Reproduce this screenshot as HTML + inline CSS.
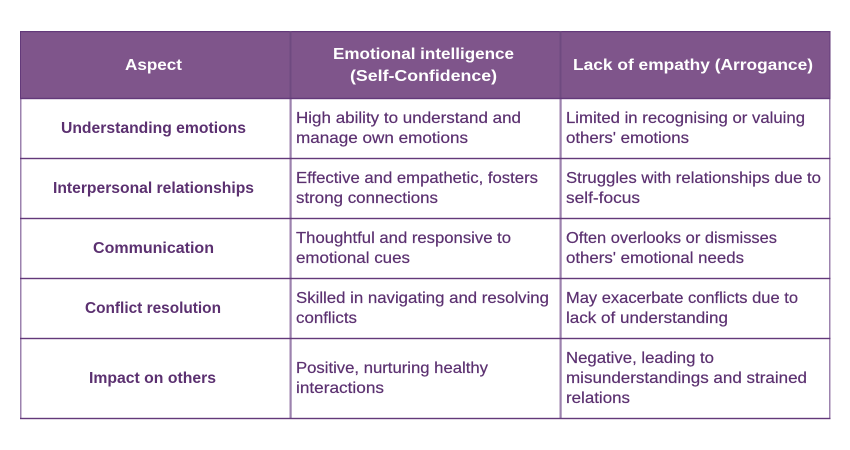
<!DOCTYPE html>
<html><head><meta charset="utf-8"><style>
html,body{margin:0;padding:0;background:#fff;width:850px;height:450px;overflow:hidden}
svg{display:block}
text{font-family:"Liberation Sans",sans-serif;font-size:16px}
.b{fill:#5b3070;stroke:#5b3070;stroke-width:.2}
.s{fill:#5b3070;font-weight:bold;font-size:15.5px}
.h{fill:#fff;font-weight:bold;font-size:16px}
</style></head><body>
<svg width="850" height="450" viewBox="0 0 850 450" xmlns="http://www.w3.org/2000/svg">
<rect width="850" height="450" fill="#fff"/>
<rect x="20" y="31" width="810" height="67" fill="#7f558b"/>
<g fill="#9c82ae">
<rect x="20" y="98" width="1.5" height="320"/>
<rect x="289.5" y="98" width="2.2" height="320"/>
<rect x="559.5" y="98" width="2.2" height="320"/>
<rect x="829" y="98" width="1.5" height="320"/>
</g>
<g fill="#63397a">
<rect x="20" y="31" width="810.5" height="1.2"/>
<rect x="289.5" y="31" width="2" height="67" fill="#6f4a80"/>
<rect x="559.5" y="31" width="2" height="67" fill="#6f4a80"/>
<rect x="20" y="31" width="1" height="67"/>
<rect x="829.5" y="31" width="1" height="67"/>
<rect x="20" y="97.8" width="810.5" height="1.4"/>
<rect x="20" y="157.8" width="810.5" height="1.4"/>
<rect x="20" y="217.8" width="810.5" height="1.4"/>
<rect x="20" y="277.8" width="810.5" height="1.4"/>
<rect x="20" y="337.8" width="810.5" height="1.4"/>
<rect x="20" y="417.8" width="810.5" height="1.4"/>
</g>
<text class="h" x="125" y="70" textLength="57" lengthAdjust="spacingAndGlyphs">Aspect</text>
<text class="h" x="333" y="59" textLength="181" lengthAdjust="spacingAndGlyphs">Emotional intelligence</text>
<text class="h" x="350" y="81" textLength="147" lengthAdjust="spacingAndGlyphs">(Self-Confidence)</text>
<text class="h" x="573" y="70" textLength="240" lengthAdjust="spacingAndGlyphs">Lack of empathy (Arrogance)</text>

<text class="s" x="61" y="133" textLength="185" lengthAdjust="spacingAndGlyphs">Understanding emotions</text>
<text class="s" x="53" y="193" textLength="201" lengthAdjust="spacingAndGlyphs">Interpersonal relationships</text>
<text class="s" x="93" y="253" textLength="121" lengthAdjust="spacingAndGlyphs">Communication</text>
<text class="s" x="85" y="313" textLength="136" lengthAdjust="spacingAndGlyphs">Conflict resolution</text>
<text class="s" x="89" y="383" textLength="127" lengthAdjust="spacingAndGlyphs">Impact on others</text>

<text class="b" x="296" y="123" textLength="225" lengthAdjust="spacingAndGlyphs">High ability to understand and</text>
<text class="b" x="296" y="143" textLength="172" lengthAdjust="spacingAndGlyphs">manage own emotions</text>
<text class="b" x="296" y="183" textLength="242" lengthAdjust="spacingAndGlyphs">Effective and empathetic, fosters</text>
<text class="b" x="296" y="203" textLength="142" lengthAdjust="spacingAndGlyphs">strong connections</text>
<text class="b" x="296" y="243" textLength="215" lengthAdjust="spacingAndGlyphs">Thoughtful and responsive to</text>
<text class="b" x="296" y="263" textLength="114" lengthAdjust="spacingAndGlyphs">emotional cues</text>
<text class="b" x="296" y="303" textLength="253" lengthAdjust="spacingAndGlyphs">Skilled in navigating and resolving</text>
<text class="b" x="296" y="323" textLength="61" lengthAdjust="spacingAndGlyphs">conflicts</text>
<text class="b" x="296" y="373" textLength="192" lengthAdjust="spacingAndGlyphs">Positive, nurturing healthy</text>
<text class="b" x="296" y="393" textLength="88" lengthAdjust="spacingAndGlyphs">interactions</text>

<text class="b" x="566" y="123" textLength="239" lengthAdjust="spacingAndGlyphs">Limited in recognising or valuing</text>
<text class="b" x="566" y="143" textLength="123" lengthAdjust="spacingAndGlyphs">others' emotions</text>
<text class="b" x="566" y="183" textLength="255" lengthAdjust="spacingAndGlyphs">Struggles with relationships due to</text>
<text class="b" x="566" y="203" textLength="74" lengthAdjust="spacingAndGlyphs">self-focus</text>
<text class="b" x="566" y="243" textLength="211" lengthAdjust="spacingAndGlyphs">Often overlooks or dismisses</text>
<text class="b" x="566" y="263" textLength="178" lengthAdjust="spacingAndGlyphs">others' emotional needs</text>
<text class="b" x="566" y="303" textLength="232" lengthAdjust="spacingAndGlyphs">May exacerbate conflicts due to</text>
<text class="b" x="566" y="323" textLength="162" lengthAdjust="spacingAndGlyphs">lack of understanding</text>
<text class="b" x="566" y="363" textLength="148" lengthAdjust="spacingAndGlyphs">Negative, leading to</text>
<text class="b" x="566" y="383" textLength="241" lengthAdjust="spacingAndGlyphs">misunderstandings and strained</text>
<text class="b" x="566" y="403" textLength="64" lengthAdjust="spacingAndGlyphs">relations</text>
</svg>
</body></html>
